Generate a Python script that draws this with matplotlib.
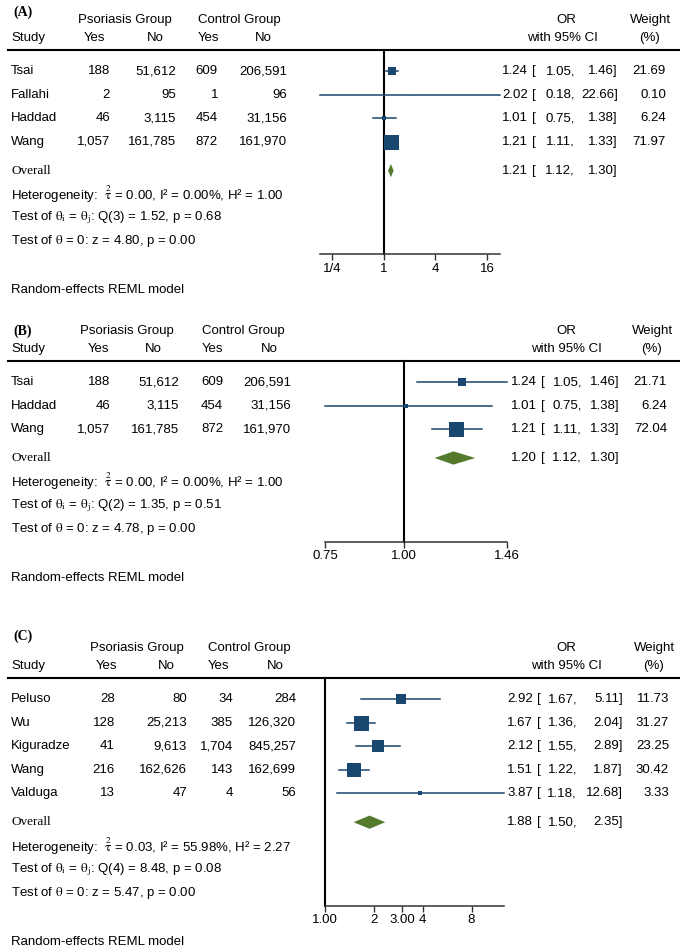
import numpy as np
import matplotlib.pyplot as plt
from matplotlib.patches import Polygon
from matplotlib.ticker import NullLocator
from matplotlib.transforms import blended_transform_factory

plt.rcParams['font.family'] = ['Liberation Sans', 'DejaVu Sans']
plt.rcParams['mathtext.fontset'] = 'stix'

# data - panel A
a_study = ['Tsai', 'Fallahi', 'Haddad', 'Wang']
a_ps_yes = [188, 2, 46, 1057]
a_ps_no = [51612, 95, 3115, 161785]
a_ct_yes = [609, 1, 454, 872]
a_ct_no = [206591, 96, 31156, 161970]
a_or = [1.24, 2.02, 1.01, 1.21]
a_lo = [1.05, 0.18, 0.75, 1.11]
a_hi = [1.46, 22.66, 1.38, 1.33]
a_weight = [21.69, 0.10, 6.24, 71.97]
a_overall = [1.21, 1.12, 1.30]
a_het = [0.00, 0.00, 1.00, 3, 1.52, 0.68, 4.80, 0.00]  # tau2, I2, H2, df, Q, p, z, p
a_ticks = [0.25, 1, 4, 16]
a_ticklabels = ['1/4', '1', '4', '16']

# data - panel B
b_study = ['Tsai', 'Haddad', 'Wang']
b_ps_yes = [188, 46, 1057]
b_ps_no = [51612, 3115, 161785]
b_ct_yes = [609, 454, 872]
b_ct_no = [206591, 31156, 161970]
b_or = [1.24, 1.01, 1.21]
b_lo = [1.05, 0.75, 1.11]
b_hi = [1.46, 1.38, 1.33]
b_weight = [21.71, 6.24, 72.04]
b_overall = [1.20, 1.12, 1.30]
b_het = [0.00, 0.00, 1.00, 2, 1.35, 0.51, 4.78, 0.00]
b_ticks = [0.75, 1.00, 1.46]
b_ticklabels = ['0.75', '1.00', '1.46']

# data - panel C
c_study = ['Peluso', 'Wu', 'Kiguradze', 'Wang', 'Valduga']
c_ps_yes = [28, 128, 41, 216, 13]
c_ps_no = [80, 25213, 9613, 162626, 47]
c_ct_yes = [34, 385, 1704, 143, 4]
c_ct_no = [284, 126320, 845257, 162699, 56]
c_or = [2.92, 1.67, 2.12, 1.51, 3.87]
c_lo = [1.67, 1.36, 1.55, 1.22, 1.18]
c_hi = [5.11, 2.04, 2.89, 1.87, 12.68]
c_weight = [11.73, 31.27, 23.25, 30.42, 3.33]
c_overall = [1.88, 1.50, 2.35]
c_het = [0.03, 55.98, 2.27, 4, 8.48, 0.08, 5.47, 0.00]
c_ticks = [1, 2, 3, 4, 8]
c_ticklabels = ['1.00', '2', '3.00', '4', '8']

W, H = 684, 952
ROW = 23.6   # pixels per row
FS = 9.5
NAVY = '#1a476f'
GREEN = '#557a2e'

fig = plt.figure(figsize=(W / 100, H / 100), dpi=100)


def draw_panel(top, xr, cols, study, ps_yes, ps_no, ct_yes, ct_no,
               est, lo, hi, weight, overall, het, xlim, ticks, ticklabels):
    n = len(study)
    y0, y1 = -0.89, n + 3.77
    h = (y1 - y0) * ROW
    ax = fig.add_axes([xr[0] / W, 1 - (top + h) / H, (xr[1] - xr[0]) / W, h / H])
    ax.set_xscale('log')
    ax.set_xlim(xlim)
    ax.set_ylim(y1, y0)
    for s in ['top', 'left', 'right']:
        ax.spines[s].set_visible(False)
    ax.spines['bottom'].set_color('#333333')
    ax.spines['bottom'].set_linewidth(1.1)
    ax.set_yticks([])
    ax.set_xticks(ticks, ticklabels)
    ax.xaxis.set_minor_locator(NullLocator())
    ax.tick_params(axis='x', length=4, width=1, color='#333333', labelsize=FS, pad=2)
    ax.patch.set_alpha(0)

    ax.axvline(1, color='black', lw=1.5, clip_on=False)

    # studies
    wmax = max(weight)
    for i in range(n):
        ax.plot([lo[i], hi[i]], [i, i], color=NAVY, lw=1.1, clip_on=False)
        side = 15 * np.sqrt(weight[i] / wmax)
        ax.plot(est[i], i, 's', ms=side * 0.72, color=NAVY, mew=0, clip_on=False)

    # overall diamond
    yo = n + 0.22
    ax.add_patch(Polygon([[overall[1], yo], [overall[0], yo - 0.28],
                          [overall[2], yo], [overall[0], yo + 0.28]],
                         closed=True, color=GREEN, lw=0, clip_on=False))

    tr = blended_transform_factory(fig.transFigure, ax.transData)

    def t(x, y, s, ha='left', **kw):
        ax.text(x / W, y, s, transform=tr, ha=ha, va='center', fontsize=FS, clip_on=False, **kw)

    # header
    yp, ys = y0 - 30 / ROW, y0 - 12 / ROW
    t(cols['ps_c'], yp, 'Psoriasis Group', 'center')
    t(cols['ct_c'], yp, 'Control Group', 'center')
    t(11, ys, 'Study')
    for x, s in zip(cols['hdr'], ['Yes', 'No', 'Yes', 'No']):
        t(x, ys, s, 'center')
    t(cols['or_c'], yp, 'OR', 'center')
    t(cols['ci_c'], ys, 'with 95% CI', 'center')
    t(cols['wt_c'], yp, 'Weight', 'center')
    t(cols['wt_c'], ys, '(%)', 'center')
    ax.plot([8 / W, 679 / W], [y0, y0], transform=tr, color='black', lw=1.5, clip_on=False)

    # rows
    for i in range(n):
        t(11, i, study[i])
        t(cols['r'][0], i, f'{ps_yes[i]:,}', 'right')
        t(cols['r'][1], i, f'{ps_no[i]:,}', 'right')
        t(cols['r'][2], i, f'{ct_yes[i]:,}', 'right')
        t(cols['r'][3], i, f'{ct_no[i]:,}', 'right')
        t(cols['est'], i, f'{est[i]:.2f}', 'right')
        t(cols['est'] + 4, i, '[')
        t(cols['lo'], i, f'{lo[i]:.2f},', 'right')
        t(cols['hi'], i, f'{hi[i]:.2f}]', 'right')
        t(cols['w'], i, f'{weight[i]:.2f}', 'right')

    t(11, yo, 'Overall', family='Liberation Serif')
    t(cols['est'], yo, f'{overall[0]:.2f}', 'right')
    t(cols['est'] + 4, yo, '[')
    t(cols['lo'], yo, f'{overall[1]:.2f},', 'right')
    t(cols['hi'], yo, f'{overall[2]:.2f}]', 'right')

    tau2, i2, h2, df, q, qp, z, zp = het
    t(11, n + 1.22, 'Heterogeneity:  ' + r'$\overset{2}{\mathrm{\tau}}$' +
      f' = {tau2:.2f}, I\u00b2 = {i2:.2f}%, H\u00b2 = {h2:.2f}')
    t(11, n + 2.22, r'Test of $\mathrm{\theta_i}$ = $\mathrm{\theta_j}$' +
      f': Q({df}) = {q:.2f}, p = {qp:.2f}')
    t(11, n + 3.22, r'Test of $\mathrm{\theta}$' + f' = 0: z = {z:.2f}, p = {zp:.2f}')
    t(11, y1 + 36 / ROW, 'Random-effects REML model')


draw_panel(50, (320, 500),
           dict(ps_c=125, ct_c=239, hdr=[95, 155, 208, 263], r=[110, 176, 218, 287],
                est=528, lo=575, hi=618, w=666, or_c=566, ci_c=562, wt_c=650),
           a_study, a_ps_yes, a_ps_no, a_ct_yes, a_ct_no, a_or, a_lo, a_hi, a_weight,
           a_overall, a_het, (min(a_lo), max(a_hi)), a_ticks, a_ticklabels)

draw_panel(361, (325, 507),
           dict(ps_c=127, ct_c=243, hdr=[99, 153, 212, 269], r=[110, 179, 223, 291],
                est=537, lo=582, hi=620, w=667, or_c=566, ci_c=566, wt_c=652),
           b_study, b_ps_yes, b_ps_no, b_ct_yes, b_ct_no, b_or, b_lo, b_hi, b_weight,
           b_overall, b_het, (min(b_lo), max(b_hi)), b_ticks, b_ticklabels)

draw_panel(678, (325, 504),
           dict(ps_c=137, ct_c=249, hdr=[106, 166, 219, 275], r=[115, 187, 233, 296],
                est=533, lo=577, hi=623, w=669, or_c=566, ci_c=566, wt_c=654),
           c_study, c_ps_yes, c_ps_no, c_ct_yes, c_ct_no, c_or, c_lo, c_hi, c_weight,
           c_overall, c_het, (1.0, max(c_hi)), c_ticks, c_ticklabels)

# panel labels
for x, y, s in [(13, 12, '(A)'), (13, 331, '(B)'), (13, 636, '(C)')]:
    fig.text(x / W, 1 - y / H, s, ha='left', va='center', fontsize=10,
             family='Liberation Serif', weight='bold')

fig.savefig('out.png', dpi=100)
